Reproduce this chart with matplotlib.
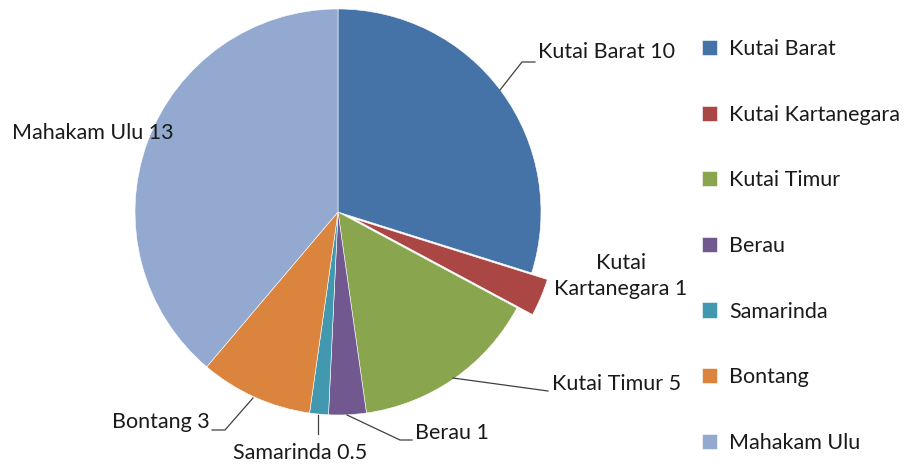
import matplotlib
matplotlib.use("Agg")
import matplotlib.pyplot as plt

categories = ["Kutai Barat", "Kutai Kartanegara", "Kutai Timur", "Berau",
              "Samarinda", "Bontang", "Mahakam Ulu"]
values = [10, 1, 5, 1, 0.5, 3, 13]
value_labels = ["10", "1", "5", "1", "0.5", "3", "13"]
colors = ["#4572A7", "#AA4643", "#89A54E", "#71588F", "#4198AF", "#DB843D", "#93A9CF"]
explode = [0, 17, 0, 0, 0, 0, 0]

plt.rcParams['font.family'] = ['Lato', 'DejaVu Sans']
W, H = 905, 466
fig = plt.figure(figsize=(W / 100, H / 100), dpi=100)
ax = fig.add_axes([0, 0, 1, 1])

cx, cy, r = 338, H - 212, 203
wedges, _ = ax.pie(values, colors=colors, startangle=90, counterclock=False,
                   explode=explode, center=(cx, cy), radius=r, frame=True,
                   wedgeprops=dict(linewidth=0.4, edgecolor='white'))
ax.set_xlim(0, W)
ax.set_ylim(0, H)
ax.set_aspect('equal')
ax.axis('off')

fs = 15.5
tc = '#1a1a1a'
lc = '#404040'

def Y(y):
    return H - y

label_specs = [
    (f"{categories[0]} {value_labels[0]}", 538, 52, 'left', [(500, 90), (522, 62), (535, 62)]),
    (f"Kutai\nKartanegara {value_labels[1]}", 621, 276, 'center', None),
    (f"{categories[2]} {value_labels[2]}", 552, 384, 'left', [(453, 378), (548, 391)]),
    (f"{categories[3]} {value_labels[3]}", 415, 433, 'left', [(347, 415), (400, 440), (412, 440)]),
    (f"{categories[4]} {value_labels[4]}", 300, 453, 'center', [(318, 415), (318, 434)]),
    (f"{categories[5]} {value_labels[5]}", 210, 422, 'right', [(253, 398), (225, 430), (212, 430)]),
    (f"{categories[6]} {value_labels[6]}", 12, 133, 'left', None),
]
for text, x, y, ha, pts in label_specs:
    ax.text(x, Y(y), text, ha=ha, va='center', fontsize=fs, color=tc,
            multialignment='center', linespacing=1.35)
    if pts:
        ax.plot([p[0] for p in pts], [Y(p[1]) for p in pts], color=lc, lw=0.9)

leg = ax.legend(wedges, categories, loc='upper left', bbox_to_anchor=(702 / W, 1 - 39 / H),
                bbox_transform=fig.transFigure, frameon=False, fontsize=fs,
                handlelength=0.7, handleheight=0.7, handletextpad=0.55,
                labelspacing=2.12, borderaxespad=0, borderpad=0)
for t in leg.get_texts():
    t.set_color(tc)

fig.savefig("out.png", dpi=100)
